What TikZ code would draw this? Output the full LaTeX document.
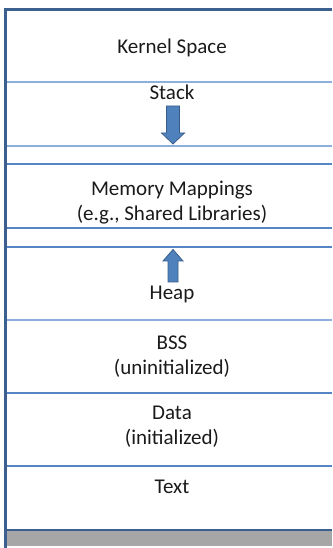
\documentclass[tikz,border=0pt]{standalone}
\usepackage{fontspec}
\setmainfont{Carlito}
\definecolor{frameblue}{HTML}{3B6090}
\definecolor{lightsep}{HTML}{8EAEDB}
\definecolor{midsep}{HTML}{5585C4}
\definecolor{arrowfill}{HTML}{4F81BD}
\definecolor{arrowedge}{HTML}{385D8A}
\definecolor{floorgray}{HTML}{A6A6A6}
\definecolor{labeltext}{HTML}{1A1A1A}
\tikzset{
  frameline/.style={draw=frameblue, line width=3pt},
  lightline/.style={draw=lightsep, line width=1.4pt},
  midline/.style={draw=midsep, line width=1.4pt},
  segment/.style={text=labeltext, align=center, inner sep=0pt,
    font=\fontsize{21}{25}\selectfont},
  blockarrow/.style={fill=arrowfill, draw=arrowedge, line width=0.8pt, line join=miter}
}
\begin{document}
\begin{tikzpicture}[x=1pt,y=1pt]
  \useasboundingbox (0,0) rectangle (332,548);
  % floor strip under the address space
  \fill[floorgray] (7,2) rectangle (332,17);
  % separators between the regions
  \draw[lightline] (7,466) -- (332,466);
  \draw[lightline] (7,402) -- (332,402);
  \draw[midline]   (7,384) -- (332,384);
  \draw[midline]   (7,320) -- (332,320);
  \draw[midline]   (7,301) -- (332,301);
  \draw[lightline] (7,228) -- (332,228);
  \draw[midline]   (7,155) -- (332,155);
  \draw[midline]   (7,82)  -- (332,82);
  % outer frame
  \draw[frameline] (4,538.5) -- (332,538.5);
  \draw[frameline] (5.5,540) -- (5.5,0);
  \draw[draw=frameblue, line width=2.5pt] (7,18) -- (332,18);
  % region labels
  \node[segment] (kernel) at (172,500.5) {Kernel Space};
  \node[segment] (stack)  at (172,455.5) {Stack};
  \node[segment] (mmap)   at (172,345.5) {Memory Mappings\\(e.g., Shared Libraries)};
  \node[segment] (heap)   at (172,254) {Heap};
  \node[segment] (bss)    at (172,191.5) {BSS\\(uninitialized)};
  \node[segment] (data)   at (172,121) {Data\\(initialized)};
  \node[segment] (text)   at (172,61)  {Text};
  % stack grows downward
  \draw[blockarrow] (166.5,442) -- (179.5,442) -- (179.5,415) -- (184.5,415)
    -- (173,404) -- (161.5,415) -- (166.5,415) -- cycle;
  % heap grows upward
  \draw[blockarrow] (168,266) -- (178,266) -- (178,287) -- (183,287)
    -- (173,298.5) -- (163,287) -- (168,287) -- cycle;
\end{tikzpicture}
\end{document}
